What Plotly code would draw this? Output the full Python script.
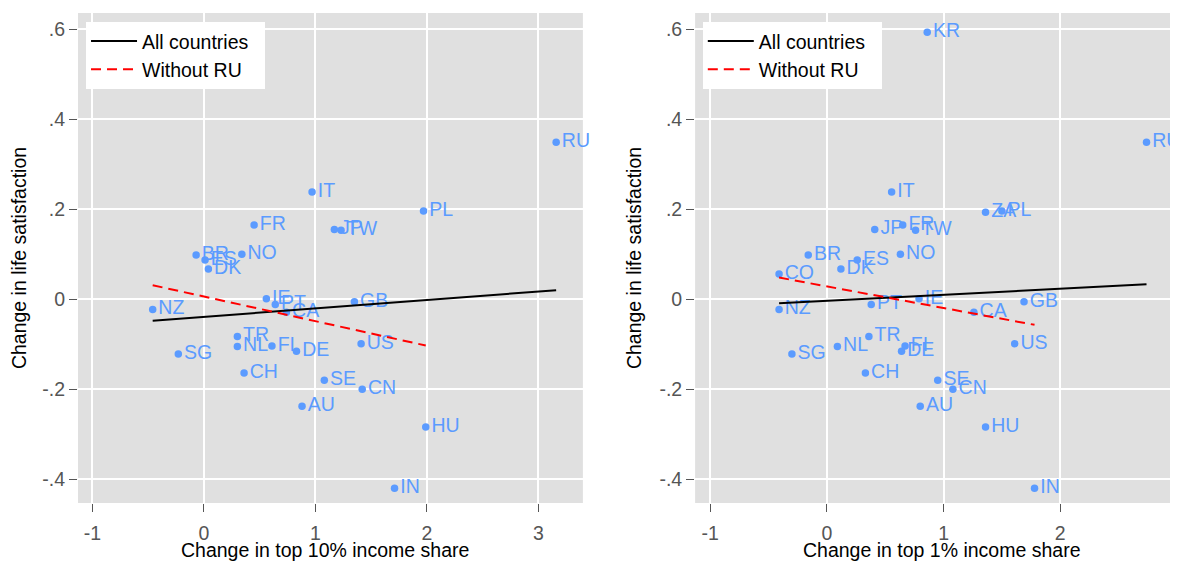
import plotly.graph_objects as go

# ---- Data ----
life_sat = {
    "RU": 0.349, "IT": 0.238, "PL": 0.196, "FR": 0.165, "JP": 0.155, "TW": 0.153,
    "BR": 0.098, "ES": 0.087, "NO": 0.100, "DK": 0.067, "IE": 0.001, "PT": -0.012,
    "CA": -0.029, "GB": -0.006, "NZ": -0.023, "TR": -0.083, "NL": -0.105, "FI": -0.104,
    "DE": -0.116, "US": -0.099, "SG": -0.122, "CH": -0.164, "SE": -0.180, "CN": -0.200,
    "AU": -0.238, "HU": -0.284, "IN": -0.420, "KR": 0.593, "ZA": 0.193, "CO": 0.056,
}

top10_countries = ["RU", "IT", "PL", "FR", "JP", "TW", "BR", "ES", "NO", "DK", "IE", "PT",
                   "CA", "GB", "NZ", "TR", "NL", "FI", "DE", "US", "SG", "CH", "SE", "CN",
                   "AU", "HU", "IN"]
top10_change = [3.16, 0.97, 1.97, 0.45, 1.17, 1.23, -0.07, 0.01, 0.34, 0.04, 0.56, 0.64,
                0.74, 1.35, -0.46, 0.30, 0.30, 0.61, 0.83, 1.41, -0.23, 0.36, 1.08, 1.42,
                0.88, 1.99, 1.71]

top1_countries = ["KR", "RU", "IT", "ZA", "PL", "JP", "FR", "TW", "BR", "ES", "NO", "DK",
                  "CO", "IE", "PT", "CA", "GB", "NZ", "TR", "NL", "FI", "DE", "US", "SG",
                  "CH", "SE", "CN", "AU", "HU", "IN"]
top1_change = [0.86, 2.74, 0.555, 1.36, 1.50, 0.41, 0.65, 0.76, -0.16, 0.26, 0.63, 0.12,
               -0.41, 0.79, 0.38, 1.26, 1.69, -0.41, 0.36, 0.09, 0.67, 0.64, 1.61, -0.30,
               0.33, 0.95, 1.08, 0.80, 1.36, 1.78]

# Fitted lines (endpoints)
fit10_all_x = [-0.46, 3.16]
fit10_all_y = [-0.048, 0.020]
fit10_noru_x = [-0.46, 1.99]
fit10_noru_y = [0.031, -0.103]
fit1_all_x = [-0.41, 2.74]
fit1_all_y = [-0.009, 0.033]
fit1_noru_x = [-0.41, 1.78]
fit1_noru_y = [0.048, -0.057]

ytick_vals = [-0.4, -0.2, 0, 0.2, 0.4, 0.6]
ytick_text = ["-.4", "-.2", "0", ".2", ".4", ".6"]
xtick_vals = [-1, 0, 1, 2, 3]
xtick_text = ["-1", "0", "1", "2", "3"]

FONT = "Arial, Liberation Sans, sans-serif"
BLUE = "#5b9bff"
FS = 19.5
NB = "\u00a0\u00a0"

fig = go.Figure()

def add_panel(xs, countries, fit_all, fit_noru, xa, ya, legend):
    fig.add_trace(go.Scatter(
        x=xs, y=[life_sat[c] for c in countries], text=countries,
        mode="markers+text", textposition="middle right",
        marker=dict(color=BLUE, size=7.5),
        textfont=dict(color=BLUE, size=FS, family=FONT),
        xaxis=xa, yaxis=ya, showlegend=False, cliponaxis=False,
    ))
    fig.add_trace(go.Scatter(
        x=fit_all[0], y=fit_all[1], mode="lines", name="All countries" + NB,
        line=dict(color="black", width=2), xaxis=xa, yaxis=ya, legend=legend,
    ))
    fig.add_trace(go.Scatter(
        x=fit_noru[0], y=fit_noru[1], mode="lines", name="Without RU" + NB,
        line=dict(color="red", width=2, dash="10px,6px"), xaxis=xa, yaxis=ya, legend=legend,
    ))

add_panel(top10_change, top10_countries, (fit10_all_x, fit10_all_y),
          (fit10_noru_x, fit10_noru_y), "x", "y", "legend")
add_panel(top1_change, top1_countries, (fit1_all_x, fit1_all_y),
          (fit1_noru_x, fit1_noru_y), "x2", "y2", "legend2")

axis_common = dict(
    showgrid=True, gridcolor="white", gridwidth=1.5, zeroline=False,
    ticks="outside", ticklen=8, tickcolor="#555555", tickwidth=1,
    tickfont=dict(family=FONT, size=FS, color="#555555"),
    showline=False, automargin=False,
)
yr = [-0.453, 0.636]
title_font = dict(family=FONT, size=FS, color="black")

legend_common = dict(
    bgcolor="white", bordercolor="white", borderwidth=0,
    font=dict(family=FONT, size=FS, color="black"),
    xanchor="left", yanchor="top", tracegroupgap=0,
    itemwidth=46,
)

# Page body has an 8px margin, so the figure is positioned accordingly
W, H = 1185, 553
ML, MR, MT, MB = 70, 15, 5, 58
PW = W - ML - MR
PH = H - MT - MB
title_y = -(542 - (H - MB)) / PH

fig.update_layout(
    width=W, height=H,
    margin=dict(l=ML, r=MR, t=MT, b=MB, autoexpand=False),
    paper_bgcolor="white", plot_bgcolor="#e0e0e0",
    font=dict(family=FONT),
    xaxis=dict(domain=[0, 0.459], range=[-1.13, 3.40], tickvals=xtick_vals, ticktext=xtick_text,
               ticklabelstandoff=5, **axis_common),
    yaxis=dict(domain=[0, 1], range=yr, tickvals=ytick_vals, ticktext=ytick_text,
               title=dict(text="Change in life satisfaction", font=title_font, standoff=12),
               **axis_common),
    xaxis2=dict(domain=[0.561, 1], range=[-1.13, 3.01], tickvals=xtick_vals, ticktext=xtick_text, anchor="y2",
                ticklabelstandoff=5, **axis_common),
    yaxis2=dict(domain=[0, 1], range=yr, tickvals=ytick_vals, ticktext=ytick_text, anchor="x2",
                title=dict(text="Change in life satisfaction", font=title_font, standoff=12),
                **axis_common),
    legend=dict(x=0.0073, y=0.982, **legend_common),
    legend2=dict(x=0.568, y=0.982, **legend_common),
    annotations=[
        dict(text="Change in top 10% income share", xref="paper", yref="paper",
             x=(324.5 - 8 - ML) / PW, y=title_y, xanchor="center", yanchor="middle",
             showarrow=False, font=title_font),
        dict(text="Change in top 1% income share", xref="paper", yref="paper",
             x=(942 - 8 - ML) / PW, y=title_y, xanchor="center", yanchor="middle",
             showarrow=False, font=title_font),
    ],
)

fig.write_html("out.html")
